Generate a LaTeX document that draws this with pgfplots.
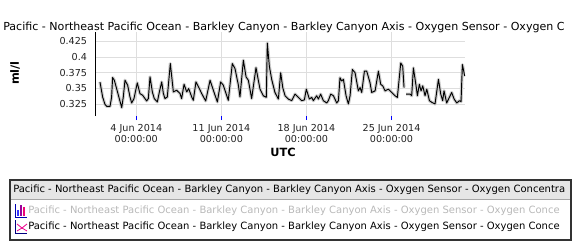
\documentclass[border=0pt]{standalone}
\usepackage{pgfplots}
\pgfplotsset{compat=1.18}
\usepackage{fontspec}
\setmainfont{DejaVu Sans}
\usepackage{pgfplotstable}
\definecolor{gridc}{HTML}{DEDEDE}
\definecolor{bordc}{HTML}{333333}
\definecolor{headc}{HTML}{E6E6E6}
\definecolor{ticklbl}{HTML}{222222}
\pgfplotstableread{
day val
0.01 0.3604
0.23 0.3366
0.42 0.3250
0.56 0.3218
0.84 0.3218
0.97 0.3366
1.05 0.3673
1.19 0.3631
1.38 0.3499
1.60 0.3340
1.80 0.3197
1.93 0.3366
2.07 0.3631
2.29 0.3552
2.48 0.3366
2.62 0.3271
2.81 0.3340
3.08 0.3589
3.30 0.3419
3.52 0.3393
3.85 0.3303
3.99 0.3340
4.13 0.3684
4.32 0.3446
4.48 0.3340
4.73 0.3287
4.90 0.3446
5.09 0.3604
5.23 0.3419
5.36 0.3340
5.55 0.3366
5.80 0.3895
6.05 0.3446
6.32 0.3472
6.60 0.3419
6.73 0.3340
6.93 0.3567
7.15 0.3446
7.31 0.3499
7.56 0.3366
7.69 0.3313
7.91 0.3604
8.19 0.3499
8.38 0.3419
8.71 0.3303
9.07 0.3631
9.34 0.3472
9.67 0.3287
9.94 0.3604
10.16 0.3552
10.57 0.3313
10.90 0.3895
11.12 0.3816
11.40 0.3552
11.53 0.3366
11.81 0.3948
12.03 0.3684
12.22 0.3631
12.49 0.3340
12.85 0.3830
13.05 0.3620
13.18 0.3490
13.45 0.3385
13.70 0.3360
13.78 0.4220
13.95 0.3850
14.14 0.3645
14.41 0.3437
14.69 0.3333
14.88 0.3750
15.05 0.3515
15.24 0.3385
15.51 0.3333
15.79 0.3307
16.06 0.3411
16.34 0.3359
16.61 0.3307
16.83 0.3320
16.99 0.3490
17.24 0.3333
17.43 0.3359
17.57 0.3307
17.84 0.3385
17.98 0.3333
18.17 0.3411
18.39 0.3307
18.67 0.3271
18.80 0.3307
19.00 0.3411
19.22 0.3385
19.49 0.3271
19.63 0.3307
19.76 0.3671
19.90 0.3619
20.04 0.3645
20.26 0.3385
20.45 0.3255
20.59 0.3385
20.78 0.3801
21.00 0.3750
21.27 0.3463
21.41 0.3515
21.55 0.3437
21.77 0.3775
21.96 0.3775
22.23 0.3593
22.37 0.3437
22.65 0.3463
22.92 0.3775
23.11 0.3567
23.28 0.3541
23.47 0.3463
23.74 0.3490
24.02 0.3437
24.29 0.3385
24.48 0.3359
24.76 0.3905
24.92 0.3853
25.03 0.3515
25.10 nan
25.20 0.3411
25.53 0.3411
25.66 0.3385
25.80 0.3827
26.02 0.3541
26.13 0.3385
26.29 0.3567
26.43 0.3463
26.57 0.3541
26.76 0.3385
26.90 0.3490
27.12 0.3307
27.31 0.3281
27.58 0.3255
27.86 0.3645
28.05 0.3411
28.21 0.3307
28.32 0.3463
28.54 0.3271
28.76 0.3359
28.95 0.3437
29.15 0.3333
29.37 0.3271
29.59 0.3307
29.72 0.3292
29.83 0.3879
29.97 0.3750
30.02 0.3697
}\oxy
\begin{document}
\begin{tikzpicture}
\path[use as bounding box] (0,0) rectangle (435pt,-187.5pt);
\begin{axis}[
  at={(71.78pt,-87pt)}, anchor=south west,
  scale only axis, width=277pt, height=63.2pt,
  xmin=-0.34, xmax=30.05, ymin=0.3064, ymax=0.44,
  axis lines*=left,
  x axis line style={draw=none},
  y axis line style={black, line width=0.8pt},
  xtick={3,10,17,24},
  xticklabels={{4 Jun 2014\\00:00:00},{11 Jun 2014\\00:00:00},{18 Jun 2014\\00:00:00},{25 Jun 2014\\00:00:00}},
  xticklabel style={align=center, font=\fontsize{7.2pt}{8.2pt}\selectfont, text=ticklbl},
  ytick={0.325,0.35,0.375,0.4,0.425},
  yticklabels={0.325,0.35,0.375,0.4,0.425},
  yticklabel style={font=\fontsize{7.2pt}{8.2pt}\selectfont, text=ticklbl},
  grid=major, major grid style={color=gridc, line width=0.6pt},
  tick align=outside, major tick length=3pt,
  x tick style={blue, line width=0.6pt},
  y tick style={draw=none},
  unbounded coords=jump,
]
\addplot[color=black!20, line width=2.4pt, line join=round] table[x=day,y=val] {\oxy};
\addplot[color=black, line width=0.7pt, line join=round] table[x=day,y=val] {\oxy};
\end{axis}
\begin{scope}[x=0.75pt,y=-0.75pt]
\node[anchor=west, inner sep=0, font=\fontsize{8.3pt}{9pt}\selectfont] at (3,27) {Pacific - Northeast Pacific Ocean - Barkley Canyon - Barkley Canyon Axis - Oxygen Sensor - Oxygen C};
\node[rotate=90, inner sep=0, font=\fontsize{8.5pt}{9pt}\selectfont\bfseries] at (15,73) {ml/l};
\node[inner sep=0, font=\fontsize{8.5pt}{9pt}\selectfont\bfseries] at (283,152) {UTC};
% legend box
\fill[headc] (10,180) rectangle (571,199);
\draw[gray!70, line width=0.5pt] (10,199) -- (571,199);
\draw[bordc, line width=1.1pt] (10,180) rectangle (571,240);
\node[anchor=west, inner sep=0, font=\fontsize{7.5pt}{9pt}\selectfont] at (13,190) {Pacific - Northeast Pacific Ocean - Barkley Canyon - Barkley Canyon Axis - Oxygen Sensor - Oxygen Concentra};
\node[anchor=west, inner sep=0, text=black!28, font=\fontsize{7.5pt}{9pt}\selectfont] at (28,211) {Pacific - Northeast Pacific Ocean - Barkley Canyon - Barkley Canyon Axis - Oxygen Sensor - Oxygen Conce};
\node[anchor=west, inner sep=0, font=\fontsize{7.5pt}{9pt}\selectfont] at (28,227) {Pacific - Northeast Pacific Ocean - Barkley Canyon - Barkley Canyon Axis - Oxygen Sensor - Oxygen Conce};
% icon 1
\draw[blue!70!black, line width=0.6pt] (15,204) -- (15,217) -- (27,217);
\fill[blue!80] (17,210) rectangle (19,216);
\fill[violet!80!magenta] (20,205) rectangle (22,216);
\fill[magenta!80!red] (23,207) rectangle (25,216);
% icon 2
\draw[blue!50!black, line width=0.6pt] (15,220) -- (15,233) -- (27,233);
\draw[magenta, line width=0.6pt] (17,224) -- (22,228) -- (27,224);
\draw[magenta, line width=0.6pt] (17,231) -- (22,228) -- (27,231);
\end{scope}
\end{tikzpicture}
\end{document}
